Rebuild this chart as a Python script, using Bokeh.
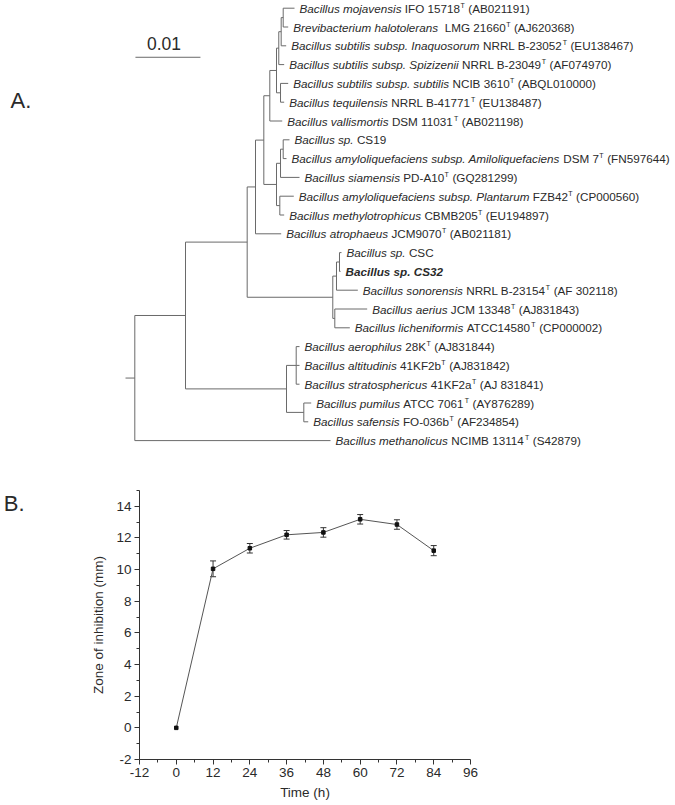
from bokeh.plotting import figure
from bokeh.models import (ColumnDataSource, Range1d, FixedTicker, Whisker, TeeHead, Label,
                          LinearAxis)
from bokeh.layouts import column
from bokeh.embed import file_html
from bokeh.resources import INLINE
from bokeh.core.properties import value

# ---------------- Panel A data (phylogenetic tree) ----------------
leaf_species = [
    "Bacillus mojavensis", "Brevibacterium halotolerans",
    "Bacillus subtilis subsp. Inaquosorum", "Bacillus subtilis subsp. Spizizenii",
    "Bacillus subtilis subsp. subtilis", "Bacillus tequilensis", "Bacillus vallismortis",
    "Bacillus sp.", "Bacillus amyloliquefaciens subsp. Amiloliquefaciens",
    "Bacillus siamensis", "Bacillus amyloliquefaciens subsp. Plantarum",
    "Bacillus methylotrophicus", "Bacillus atrophaeus", "Bacillus sp.",
    "Bacillus sp. CS32", "Bacillus sonorensis", "Bacillus aerius",
    "Bacillus licheniformis", "Bacillus aerophilus", "Bacillus altitudinis",
    "Bacillus stratosphericus", "Bacillus pumilus", "Bacillus safensis",
    "Bacillus methanolicus",
]
leaf_strain = [
    " IFO 15718", "  LMG 21660", " NRRL B-23052", " NRRL B-23049", " NCIB 3610",
    " NRRL B-41771", " DSM 11031", " CS19", " DSM 7", " PD-A10", " FZB42",
    " CBMB205", " JCM9070", " CSC", "", " NRRL B-23154", " JCM 13348",
    " ATCC14580", " 28K", " 41KF2b", " 41KF2a", " ATCC 7061", " FO-036b",
    " NCIMB 13114",
]
leaf_type_strain = [True, True, True, True, True, True, True, False, True, True,
                    True, True, True, False, False, True, True, True, True, True,
                    True, True, True, True]
leaf_accession = [
    " (AB021191)", " (AJ620368)", " (EU138467)", " (AF074970)", " (ABQL010000)",
    " (EU138487)", " (AB021198)", "", " (FN597644)", " (GQ281299)", " (CP000560)",
    " (EU194897)", " (AB021181)", "", "", " (AF 302118)", " (AJ831843)",
    " (CP000002)", " (AJ831844)", " (AJ831842)", " (AJ 831841)", " (AY876289)",
    " (AF234854)", " (S42879)",
]
highlight_leaf = 14  # Bacillus sp. CS32
# distance of each tip from the root (substitutions per site)
leaf_depth = [0.02457, 0.02360, 0.02329, 0.02298, 0.02360, 0.02298, 0.02268,
              0.02380, 0.02334, 0.02534, 0.02446, 0.02298, 0.02252, 0.03180,
              0.03165, 0.03431, 0.03575, 0.03308, 0.02534, 0.02534, 0.02534,
              0.02714, 0.02668, 0.03011]
# internal nodes: children (leaf index or node name) and depth from the root
node_names = ["a", "b", "c", "d", "e", "f", "i", "j", "k", "l", "m", "n",
              "o", "p", "q", "r", "s", "t", "u", "v", "w", "root"]
node_children = [[0, 1], ["a", 2], ["b", 3], [4, 5], ["c", "d"], ["e", 6],
                 [7, 8], ["i", 9], [10, 11], ["j", "k"], ["f", "l"], ["m", 12],
                 [13, 14], ["o", 15], [16, 17], ["p", "q"], ["n", "r"],
                 [18, 19, 20], [21, 22], ["t", "u"], ["s", "v"], ["w", 23]]
node_depth = [0.02283, 0.02252, 0.02215, 0.02242, 0.02180, 0.02077, 0.02283,
              0.02242, 0.02231, 0.02180, 0.01985, 0.01857, 0.03149, 0.03103,
              0.03077, 0.03046, 0.01729, 0.02483, 0.02600, 0.02334, 0.00780, 0.0]
root_stub = 0.00143
scale_bar = 0.01

# ---------------- Panel B data ----------------
time_h = [0, 12, 24, 36, 48, 60, 72, 84]
zone_mm = [0.0, 10.05, 11.35, 12.2, 12.35, 13.18, 12.85, 11.2]
zone_err = [0.0, 0.5, 0.3, 0.27, 0.3, 0.3, 0.3, 0.32]
x_ticks = [-12, 0, 12, 24, 36, 48, 60, 72, 84, 96]
x_minor = [-6, 6, 18, 30, 42, 54, 66, 78, 90]
y_ticks = [-2, 0, 2, 4, 6, 8, 10, 12, 14]
y_minor = [-1, 1, 3, 5, 7, 9, 11, 13, 15]

# ---------------- helpers ----------------
FONT = "Liberation Sans"
TXT = "#2a2a2a"
LINE = "#6a6a6a"
W = {' ': 278, '(': 333, ')': 333, '-': 333, '.': 278}
for ch in "0123456789":
    W[ch] = 556
W.update(dict(zip("ABCDEFGHIJKLMNOPQRSTUVWXYZ",
                  [667, 667, 722, 722, 667, 611, 778, 722, 278, 500, 667, 556, 833,
                   722, 778, 667, 778, 722, 667, 611, 722, 667, 944, 667, 667, 611])))
W.update(dict(zip("abcdefghijklmnopqrstuvwxyz",
                  [556, 556, 500, 556, 556, 278, 556, 556, 222, 222, 500, 222, 833,
                   556, 556, 556, 556, 333, 500, 278, 556, 500, 722, 500, 500, 500])))


def tw(s, size):
    return sum(W.get(c, 556) for c in s) / 1000.0 * size


LABEL_SIZE = 11.7
SUP_SIZE = 7.0
GAP = 5.0

# ---------------- tree layout ----------------
A_W, A_H = 675, 455
PX_PER_UNIT = 6500.0
ROOT_PX = 134.3
ROW0_PX, ROW_PX = 7.7, 18.8
xa0 = -ROOT_PX / PX_PER_UNIT
xa1 = (A_W - ROOT_PX) / PX_PER_UNIT
ya_top = -ROW0_PX / ROW_PX
ya_bot = (A_H - ROW0_PX) / ROW_PX

node_y = {}
node_x = {}
for i in range(len(leaf_depth)):
    node_y[i] = float(i)
    node_x[i] = leaf_depth[i]
for name, ch, d in zip(node_names, node_children, node_depth):
    ys = [node_y[c] for c in ch]
    node_y[name] = (min(ys) + max(ys)) / 2.0
    node_x[name] = d

sx0, sy0, sx1, sy1 = [], [], [], []
for name, ch in zip(node_names, node_children):
    ys = [node_y[c] for c in ch]
    sx0.append(node_x[name]); sx1.append(node_x[name]); sy0.append(min(ys)); sy1.append(max(ys))
    for c in ch:
        sx0.append(node_x[name]); sx1.append(node_x[c]); sy0.append(node_y[c]); sy1.append(node_y[c])
sx0.append(-root_stub); sx1.append(0.0); sy0.append(node_y["root"]); sy1.append(node_y["root"])

pA = figure(width=A_W, height=A_H, x_range=Range1d(xa0, xa1), y_range=Range1d(ya_bot, ya_top),
            output_backend="svg", toolbar_location=None, min_border=0,
            x_axis_location=None, y_axis_location=None)
pA.frame_align = False
pA.grid.grid_line_color = None
pA.outline_line_color = None
pA.segment(x0=sx0, y0=sy0, x1=sx1, y1=sy1, line_color=LINE, line_width=1)

it = dict(x=[], y=[], text=[], xo=[])
rg = dict(x=[], y=[], text=[], xo=[])
sp = dict(x=[], y=[], text=[], xo=[])
bd = dict(x=[], y=[], text=[], xo=[])


def put(store, x, y, s, off, size=LABEL_SIZE):
    """add a text segment; leading blanks become an x shift (SVG drops them)"""
    body = s.lstrip(" ")
    if body:
        store["x"].append(x); store["y"].append(y); store["text"].append(body)
        store["xo"].append(off + tw(s[:len(s) - len(body)], size))
    return off + tw(s, size)


for i in range(len(leaf_species)):
    x, y = leaf_depth[i], float(i)
    if i == highlight_leaf:
        put(bd, x, y, leaf_species[i], GAP)
        continue
    off = put(it, x, y, leaf_species[i], GAP)
    off = put(rg, x, y, leaf_strain[i], off)
    if leaf_type_strain[i]:
        off = put(sp, x, y, "T", off + 0.3, SUP_SIZE) + 0.3
    put(rg, x, y, leaf_accession[i], off)

common = dict(x="x", y="y", text="text", x_offset="xo", text_font=value(FONT), text_color=TXT,
              text_baseline="middle", text_align="left")
pA.text(source=ColumnDataSource(it), text_font_size=value(f"{LABEL_SIZE}px"),
        text_font_style="italic", **common)
pA.text(source=ColumnDataSource(rg), text_font_size=value(f"{LABEL_SIZE}px"),
        text_font_style="normal", **common)
pA.text(source=ColumnDataSource(bd), text_font_size=value(f"{LABEL_SIZE}px"),
        text_font_style="bold italic", **common)
pA.text(source=ColumnDataSource(sp), text_font_size=value(f"{SUP_SIZE}px"),
        text_font_style="normal", y_offset=-3, **common)

# scale bar
pA.line(x=[0.0001, 0.0001 + scale_bar], y=[2.61, 2.61], line_color=LINE, line_width=1)
pA.text(x=[0.0001 + scale_bar / 2], y=[1.89], text=[f"{scale_bar:g}"], x_offset=-4,
        text_font=value(FONT), text_font_size=value("17.5px"), text_color=TXT,
        text_baseline="middle", text_align="center")
pA.add_layout(Label(x=xa0 + 10 / PX_PER_UNIT, y=(100 - ROW0_PX) / ROW_PX, text="A.",
                    text_font=FONT, text_font_size="22px", text_color=TXT,
                    text_baseline="middle"))

# ---------------- Panel B ----------------
B_H = 805 - A_H
pB = figure(width=675, height=B_H, x_range=Range1d(-12, 96), y_range=Range1d(-2, 15),
            output_backend="svg", toolbar_location=None,
            min_border_left=138, min_border_right=205, min_border_top=35, min_border_bottom=46)
pB.frame_align = False
pB.grid.grid_line_color = None
pB.outline_line_color = None
pB.xaxis.ticker = FixedTicker(ticks=x_ticks, minor_ticks=x_minor)
pB.yaxis.ticker = FixedTicker(ticks=y_ticks, minor_ticks=y_minor)
pB.xaxis.major_label_overrides = {t: str(t) for t in x_ticks}
pB.yaxis.major_label_overrides = {t: str(t) for t in y_ticks}
for ax in (pB.xaxis[0], pB.yaxis[0]):
    ax.axis_line_color = "#333333"
    ax.major_tick_line_color = "#333333"
    ax.minor_tick_line_color = "#333333"
    ax.major_tick_out = 5
    ax.major_tick_in = 0
    ax.minor_tick_out = 3
    ax.minor_tick_in = 0
    ax.major_label_text_font = FONT
    ax.major_label_text_font_size = "13.5px"
    ax.major_label_text_color = TXT
    ax.major_label_standoff = 3
    ax.axis_label_text_font = FONT
    ax.axis_label_text_font_size = "13.5px"
    ax.axis_label_text_font_style = "normal"
    ax.axis_label_text_color = TXT
pB.xaxis.axis_label = "Time (h)"
pB.yaxis.axis_label = "Zone of inhibition (mm)"
pB.xaxis.axis_label_standoff = 5
pB.yaxis.axis_label_standoff = 7

# panel letter "B." shown as an outer left axis label (stays visible outside the frame)
panel_axis = LinearAxis(ticker=FixedTicker(ticks=[14.2]), major_label_overrides={14.2: "B."},
                        axis_line_color=None, major_tick_line_color=None,
                        minor_tick_line_color=None, major_label_standoff=58,
                        major_label_text_font=FONT, major_label_text_font_size="22px",
                        major_label_text_color=TXT)
pB.add_layout(panel_axis, "left")

pB.line(time_h, zone_mm, line_color="#555555", line_width=1)
eb = [(t, v, e) for t, v, e in zip(time_h, zone_mm, zone_err) if e > 0]
esrc = ColumnDataSource(dict(t=[a[0] for a in eb], up=[a[1] + a[2] for a in eb],
                             lo=[a[1] - a[2] for a in eb]))
pB.add_layout(Whisker(base="t", upper="up", lower="lo", source=esrc, dimension="height",
                      line_color="#333333", line_width=1,
                      upper_head=TeeHead(size=6, line_color="#333333", line_width=1),
                      lower_head=TeeHead(size=6, line_color="#333333", line_width=1)))
pB.scatter(time_h, zone_mm, marker="square", size=3.5, fill_color="#111111", line_color="#111111")

layout = column(pA, pB, spacing=0)
open("out.html", "w").write(file_html(layout, INLINE))
